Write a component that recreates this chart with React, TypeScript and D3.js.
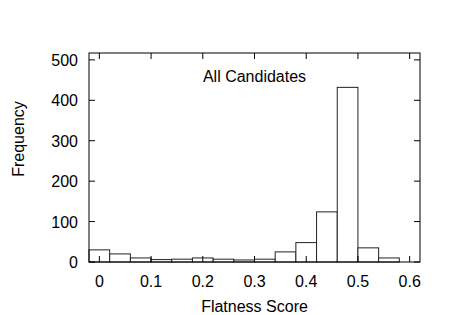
import * as d3 from 'd3'

const binCenters = [0, 0.04, 0.08, 0.12, 0.16, 0.2, 0.24, 0.28, 0.32, 0.36, 0.4, 0.44, 0.48, 0.52, 0.56]
const counts = [30, 20, 10, 6, 7, 10, 7, 5, 7, 25, 48, 124, 432, 35, 10]
const xTicks = [0, 0.1, 0.2, 0.3, 0.4, 0.5, 0.6]
const yTicks = [0, 100, 200, 300, 400, 500]
const binWidth = 0.04

const W = 450
const H = 315
const margin = { top: 53, right: 30, bottom: 53, left: 89 }
const font = '"Liberation Sans", Arial, sans-serif'

export default function App() {
  const x = d3.scaleLinear().domain([-0.02, 0.62]).range([margin.left, W - margin.right])
  const y = d3.scaleLinear().domain([0, 517]).range([H - margin.bottom, margin.top])
  const x0 = margin.left
  const x1 = W - margin.right
  const y0 = H - margin.bottom
  const y1 = margin.top
  const tick = 6

  return (
    <svg width={W} height={H} style={{ position: 'absolute', left: 0, top: 0, background: '#fff' }}>
      <g fill="#fff" stroke="#222" strokeWidth={1}>
        {counts.map((c, i) => (
          <rect
            key={i}
            x={x(binCenters[i] - binWidth / 2)}
            y={y(c)}
            width={x(binCenters[i] + binWidth / 2) - x(binCenters[i] - binWidth / 2)}
            height={y(0) - y(c)}
          />
        ))}
      </g>
      <g stroke="#000" strokeWidth={1}>
        {xTicks.map((t) => (
          <g key={t}>
            <line x1={x(t)} x2={x(t)} y1={y0} y2={y0 - tick} />
            <line x1={x(t)} x2={x(t)} y1={y1} y2={y1 + tick} />
          </g>
        ))}
        {yTicks.map((t) => (
          <g key={t}>
            <line x1={x0} x2={x0 + tick} y1={y(t)} y2={y(t)} />
            <line x1={x1} x2={x1 - tick} y1={y(t)} y2={y(t)} />
          </g>
        ))}
        <rect x={x0} y={y1} width={x1 - x0} height={y0 - y1} fill="none" />
      </g>
      <g fontFamily={font} fontSize={16} fill="#000">
        {xTicks.map((t) => (
          <text key={t} x={x(t)} y={y0 + 25} textAnchor="middle">
            {d3.format('~g')(t)}
          </text>
        ))}
        {yTicks.map((t) => (
          <text key={t} x={x0 - 11} y={y(t) + 6} textAnchor="end">
            {t}
          </text>
        ))}
        <text x={(x0 + x1) / 2} y={H - 3} textAnchor="middle">
          Flatness Score
        </text>
        <text transform={`translate(24, 139) rotate(-90)`} textAnchor="middle">
          Frequency
        </text>
        <text x={(x0 + x1) / 2} y={y1 + 29} textAnchor="middle">
          All Candidates
        </text>
      </g>
    </svg>
  )
}
